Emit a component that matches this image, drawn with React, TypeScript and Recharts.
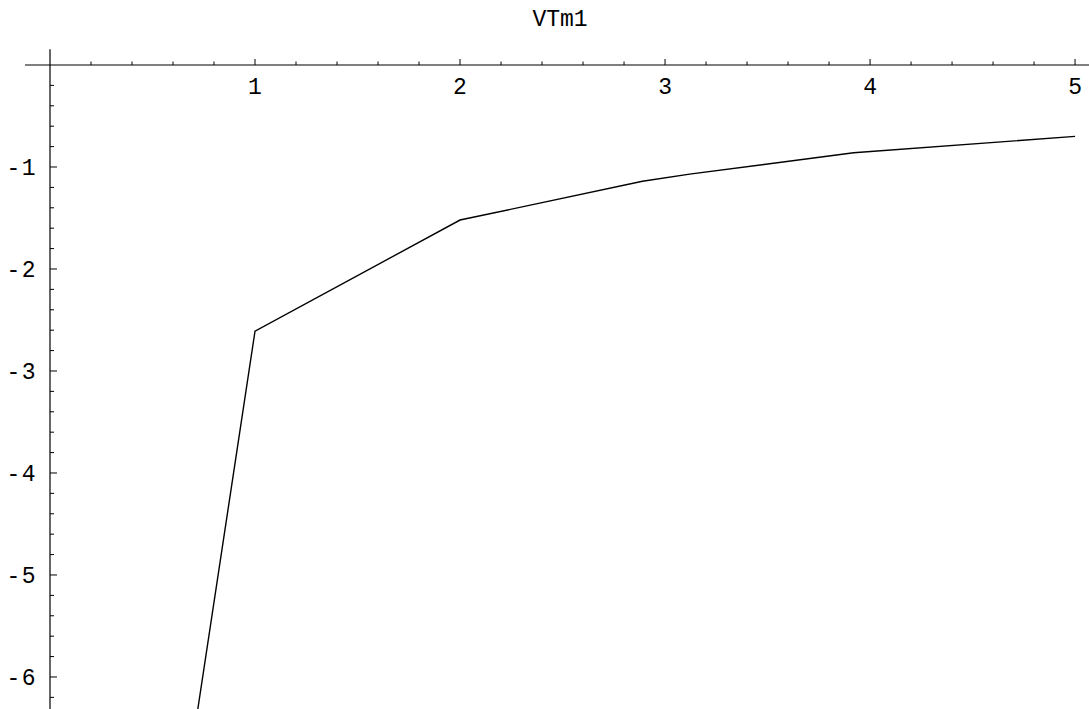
import { LineChart, Line, XAxis, YAxis, ReferenceLine } from 'recharts'

// sampled curve VTm1 (first point lies below the visible range)
const xValues = [0.5, 1, 2, 2.89, 3.12, 3.92, 5]
const yValues = [-9.25, -2.61, -1.52, -1.14, -1.07, -0.86, -0.7]

const xLabels = [1, 2, 3, 4, 5]
const yLabels = [-1, -2, -3, -4, -5, -6]

const title = 'VTm1'

const data = xValues.map((x, i) => ({ x, y: yValues[i] }))

// minor ticks every 0.2
const xTicks: number[] = []
for (let i = 1; i <= 25; i++) xTicks.push(Math.round(i * 2) / 10)
const yTicks: number[] = []
for (let i = 1; i <= 31; i++) yTicks.push(-Math.round(i * 2) / 10)

const FONT = '"Liberation Mono", "DejaVu Sans Mono", monospace'
const isMajor = (v: number) => Math.abs(v - Math.round(v)) < 1e-6

// eslint-disable-next-line @typescript-eslint/no-explicit-any
const XTick = (props: any) => {
  const { x, y, payload } = props
  const v = payload.value as number
  const major = isMajor(v)
  return (
    <g>
      <line x1={x} x2={x} y1={y} y2={y - (major ? 6 : 3.5)} stroke="#000" strokeWidth={1} />
      {major && xLabels.includes(Math.round(v)) && (
        <text x={x} y={y + 23} textAnchor="middle" dominantBaseline="central"
          fontFamily={FONT} fontSize={23} fill="#000">
          {Math.round(v)}
        </text>
      )}
    </g>
  )
}

// eslint-disable-next-line @typescript-eslint/no-explicit-any
const YTick = (props: any) => {
  const { x, y, payload } = props
  const v = payload.value as number
  const major = isMajor(v)
  return (
    <g>
      <line x1={x} x2={x + (major ? 7 : 4)} y1={y} y2={y} stroke="#000" strokeWidth={1} />
      {major && yLabels.includes(Math.round(v)) && (
        <text x={x - 13} y={y + 2} textAnchor="end" dominantBaseline="central"
          fontFamily={FONT} fontSize={23} fill="#000" letterSpacing={1.5}>
          {`-${Math.abs(Math.round(v))}`}
        </text>
      )}
    </g>
  )
}

export default function App() {
  return (
    <div style={{ position: 'absolute', left: 0, top: 0, width: 1089, height: 709, background: '#fff' }}>
      <div style={{
        position: 'absolute', left: 0, top: 7, width: 1120, textAlign: 'center',
        fontFamily: FONT, fontSize: 23, color: '#000',
      }}>
        {title}
      </div>
      <LineChart width={1089} height={709} data={data}
        margin={{ top: 0, right: 0, bottom: 0, left: 0 }}>
        <XAxis
          dataKey="x"
          type="number"
          orientation="top"
          height={65}
          domain={[0, 5.068]}
          allowDataOverflow
          ticks={xTicks}
          interval={0}
          axisLine={false}
          tickLine={false}
          tickSize={0}
          tickMargin={0}
          tick={<XTick />}
        />
        <YAxis
          type="number"
          width={50}
          domain={[-6.314, 0]}
          allowDataOverflow
          ticks={yTicks}
          interval={0}
          axisLine={false}
          tickLine={false}
          tickSize={0}
          tickMargin={0}
          tick={<YTick />}
        />
        <ReferenceLine
          segment={[{ x: -0.122, y: 0 }, { x: 5.068, y: 0 }]}
          stroke="#000"
          strokeWidth={1.2}
          ifOverflow="visible"
        />
        <ReferenceLine
          segment={[{ x: 0, y: 0.154 }, { x: 0, y: -6.314 }]}
          stroke="#000"
          strokeWidth={1.2}
          ifOverflow="visible"
        />
        <Line
          dataKey="y"
          stroke="#000"
          strokeWidth={1.4}
          dot={false}
          isAnimationActive={false}
        />
      </LineChart>
    </div>
  )
}
